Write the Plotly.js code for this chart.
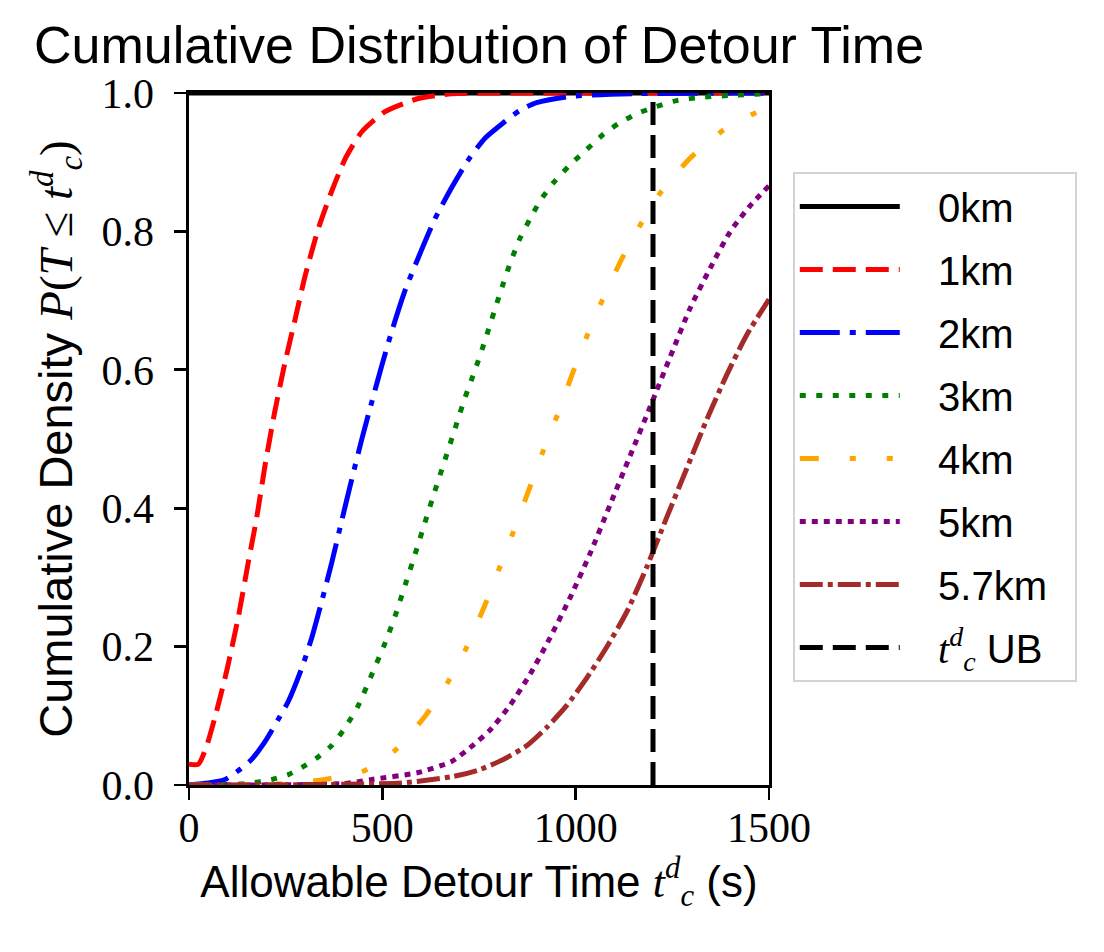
<!DOCTYPE html>
<html>
<head>
<meta charset="utf-8">
<script src="https://cdn.plot.ly/plotly-3.0.1.min.js"></script>
<style>
  html, body { margin: 0; padding: 0; background: #fff; }
  #chart { width: 1104px; height: 952px; }
</style>
</head>
<body>
<div id="chart"></div>
<script>
// detour time (s) and cumulative density
const t0 = [0, 1500];
const p0 = [1, 1];

const t1 = [0, 24, 46, 72, 98, 128, 153, 175, 197, 222, 248, 274, 300, 335, 369, 404, 447, 507, 593, 679, 800, 1500];
const p1 = [0.03, 0.03, 0.057, 0.108, 0.166, 0.244, 0.321, 0.386, 0.463, 0.54, 0.61, 0.672, 0.735, 0.805, 0.858, 0.905, 0.944, 0.973, 0.992, 0.999, 1, 1];

const t2 = [0, 50, 93, 128, 162, 197, 231, 257, 291, 317, 343, 369, 395, 421, 447, 473, 498, 524, 559, 593, 636, 679, 722, 766, 813, 856, 899, 985, 1158, 1500];
const p2 = [0, 0.003, 0.008, 0.021, 0.037, 0.063, 0.095, 0.121, 0.168, 0.212, 0.265, 0.321, 0.382, 0.442, 0.5, 0.554, 0.605, 0.655, 0.715, 0.762, 0.818, 0.863, 0.903, 0.935, 0.957, 0.975, 0.986, 0.995, 0.999, 1];

const t3 = [0, 150, 214, 257, 300, 335, 369, 404, 438, 473, 507, 533, 559, 585, 610, 636, 662, 688, 714, 740, 766, 804, 830, 856, 882, 908, 942, 985, 1028, 1071, 1114, 1158, 1201, 1261, 1330, 1416, 1500];
const p3 = [0, 0.002, 0.008, 0.015, 0.028, 0.041, 0.057, 0.083, 0.115, 0.16, 0.205, 0.244, 0.289, 0.334, 0.379, 0.425, 0.47, 0.515, 0.56, 0.6, 0.643, 0.71, 0.753, 0.79, 0.818, 0.844, 0.87, 0.896, 0.918, 0.94, 0.957, 0.97, 0.979, 0.989, 0.994, 0.997, 0.999];

const t4 = [0, 250, 352, 455, 533, 610, 671, 718, 763, 804, 839, 878, 918, 953, 990, 1033, 1071, 1119, 1175, 1227, 1300, 1386, 1475, 1500];
const p4 = [0, 0.002, 0.008, 0.021, 0.05, 0.099, 0.15, 0.199, 0.257, 0.315, 0.366, 0.425, 0.486, 0.535, 0.592, 0.654, 0.703, 0.76, 0.817, 0.862, 0.908, 0.948, 0.974, 0.978];

const t5 = [0, 400, 473, 593, 679, 727, 778, 830, 882, 933, 985, 1037, 1089, 1141, 1193, 1244, 1296, 1348, 1399, 1451, 1500];
const p5 = [0, 0.002, 0.008, 0.018, 0.034, 0.054, 0.079, 0.115, 0.16, 0.212, 0.27, 0.334, 0.405, 0.476, 0.547, 0.618, 0.689, 0.747, 0.799, 0.837, 0.866];

const t57 = [0, 550, 679, 746, 813, 874, 925, 977, 1028, 1080, 1132, 1184, 1235, 1287, 1339, 1390, 1442, 1500];
const p57 = [0, 0.003, 0.012, 0.021, 0.037, 0.057, 0.083, 0.115, 0.154, 0.199, 0.25, 0.315, 0.386, 0.457, 0.528, 0.592, 0.65, 0.702];

const tUB = [1200, 1200];
const pUB = [0, 1];

const SANS = "Liberation Sans, Arial, sans-serif";
const SERIF = "Liberation Serif, Times New Roman, serif";
const TCD = "<span style=\"font-family:'Liberation Serif'\"><i>t</i><sup><i>d</i></sup><sub><i>c</i></sub></span>";
// legend text sits a bit further from its line sample in the reference
const PAD = "\u00a0\u00a0\u00a0";
const TAIL = "\u00a0\u00a0";

function curve(x, y, name, color, dash, group) {
  return {
    x: x,
    y: y,
    type: "scatter",
    mode: "lines",
    name: PAD + name + TAIL,
    legendgroup: group,
    line: { color: color, width: 5, dash: dash, shape: "spline", smoothing: 0.6 },
    hoverinfo: "skip"
  };
}

const traces = [
  curve(t0, p0, "0km", "#000000", "solid", "g0"),
  curve(t1, p1, "1km", "#ff0000", "23px,10px", "g1"),
  curve(t2, p2, "2km", "#0000ff", "40px,10px,6px,10px", "g2"),
  curve(t3, p3, "3km", "#008000", "6px,10.5px", "g3"),
  curve(t4, p4, "4km", "#ffa500", "19px,31px,6px,31px,6px,31px", "g4"),
  curve(t5, p5, "5km", "#800080", "6px,6px", "g5"),
  curve(t57, p57, "5.7km", "#a52a2a", "23px,5px,5px,5px", "g6"),
  curve(tUB, pUB, TCD + " UB", "#000000", "23px,10px", "g7")
];

const layout = {
  width: 1104,
  height: 952,
  paper_bgcolor: "#ffffff",
  plot_bgcolor: "#ffffff",
  font: { family: SANS, color: "#000000", size: 40 },
  margin: { l: 189, r: 335, t: 93, b: 167 },
  title: {
    text: "Cumulative Distribution of Detour Time",
    font: { family: SANS, size: 52, color: "#000000" },
    x: 0.5,
    xref: "paper",
    xanchor: "center",
    y: 0.953,
    yref: "container",
    yanchor: "middle"
  },
  showlegend: true,
  legend: {
    x: 1.041,
    xanchor: "left",
    y: 0.886,
    yanchor: "top",
    bgcolor: "#ffffff",
    bordercolor: "#d3d3d3",
    borderwidth: 2,
    font: { family: SANS, size: 40, color: "#000000" },
    itemwidth: 100,
    tracegroupgap: 8,
    traceorder: "grouped"
  },
  xaxis: {
    range: [0, 1500],
    tickvals: [0, 500, 1000, 1500],
    ticktext: ["0", "500", "1000", "1500"],
    ticks: "outside",
    ticklen: 12,
    tickwidth: 2.7,
    tickcolor: "#000000",
    ticklabelstandoff: -8,
    tickfont: { family: SERIF, size: 42, color: "#000000" },
    showline: true,
    linecolor: "#000000",
    linewidth: 2.7,
    mirror: true,
    showgrid: false,
    zeroline: false,
    title: {
      text: "Allowable Detour Time " + TCD + " (s)",
      font: { family: SANS, size: 44, color: "#000000" },
      standoff: 0
    }
  },
  yaxis: {
    range: [0, 1],
    tickvals: [0, 0.2, 0.4, 0.6, 0.8, 1.0],
    ticktext: ["0.0", "0.2", "0.4", "0.6", "0.8", "1.0"],
    ticks: "outside",
    ticklen: 12,
    tickwidth: 2.7,
    tickcolor: "#000000",
    ticklabelstandoff: 12,
    tickfont: { family: SERIF, size: 42, color: "#000000" },
    showline: true,
    linecolor: "#000000",
    linewidth: 2.7,
    mirror: true,
    showgrid: false,
    zeroline: false,
    title: {
      text: "Cumulative Density <span style=\"font-family:'Liberation Serif'\"><i>P</i>(<i>T</i> ≤ <i>t</i><sup><i>d</i></sup><sub><i>c</i></sub>)</span>",
      font: { family: SANS, size: 47, color: "#000000" },
      standoff: 14
    }
  }
};

Plotly.newPlot("chart", traces, layout, { displayModeBar: false, staticPlot: true });
</script>
</body>
</html>
